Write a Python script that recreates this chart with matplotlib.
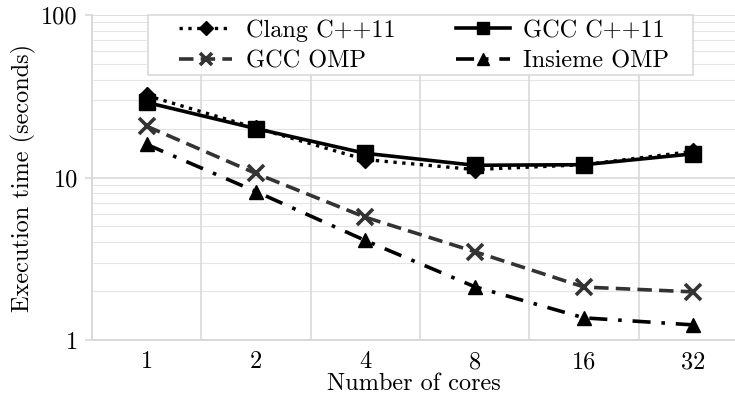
import matplotlib
matplotlib.use("Agg")
import matplotlib.pyplot as plt
from matplotlib.patches import Rectangle
from matplotlib.ticker import FixedLocator, NullFormatter

plt.rcParams["font.family"] = "serif"
plt.rcParams["font.serif"] = ["cmr10", "DejaVu Serif"]
plt.rcParams["mathtext.fontset"] = "cm"
plt.rcParams["axes.formatter.use_mathtext"] = True

cores = ["1", "2", "4", "8", "16", "32"]
clang_cxx11 = [32.0, 20.2, 12.9, 11.2, 12.0, 14.5]
gcc_cxx11 = [29.0, 20.0, 14.1, 11.9, 12.0, 14.0]
gcc_omp = [20.7, 10.6, 5.7, 3.5, 2.12, 1.98]
insieme_omp = [16.0, 8.2, 4.1, 2.13, 1.37, 1.24]

grid_col = "#d9d9d9"
fs = 17.5
x = list(range(len(cores)))

fig = plt.figure(figsize=(7.35, 3.95), dpi=100)
ax = fig.add_axes([0.125, 0.139, 0.875, 0.823])

ax.plot(x, clang_cxx11, color="black", linestyle=":", linewidth=2.4,
        marker="D", markersize=8, label="Clang C++11", zorder=3)
ax.plot(x, gcc_cxx11, color="black", linestyle="-", linewidth=2.6,
        marker="s", markersize=11, label="GCC C++11", zorder=3)
ax.plot(x, gcc_omp, color="#333333", linestyle=(0, (4, 2)), linewidth=2.6,
        marker="x", markersize=11, markeredgewidth=2.6, label="GCC OMP", zorder=3)
ax.plot(x, insieme_omp, color="black", linestyle=(0, (5, 3, 1, 3)), linewidth=2.6,
        marker="^", markersize=10, label="Insieme OMP", zorder=3)

ax.set_yscale("log")
ax.set_ylim(1, 100)
ax.set_xlim(-0.5, 5.38)
ax.set_yticks([1, 10, 100])
ax.set_yticklabels(["1", "10", "100"])
ax.yaxis.set_minor_locator(FixedLocator(
    [m * 10 ** d for d in (0, 1) for m in range(2, 10)]))
ax.yaxis.set_minor_formatter(NullFormatter())
ax.set_xticks(x)
ax.set_xticklabels(cores)
ax.xaxis.set_minor_locator(FixedLocator([i + 0.5 for i in x]))

ax.grid(True, which="major", axis="y", color=grid_col, linewidth=1.2)
ax.grid(True, which="minor", axis="y", color=grid_col, linewidth=0.8, alpha=0.7)
ax.grid(True, which="minor", axis="x", color=grid_col, linewidth=1.2)
ax.set_axisbelow(True)

ax.tick_params(axis="y", which="major", length=5, color=grid_col, width=1.2,
               labelsize=fs, pad=5)
ax.tick_params(axis="y", which="minor", length=0)
ax.tick_params(axis="x", which="both", length=0, labelsize=fs, pad=8)

for side in ("top", "right"):
    ax.spines[side].set_visible(False)
for side in ("left", "bottom"):
    ax.spines[side].set_color(grid_col)
    ax.spines[side].set_linewidth(1.4)

ax.set_ylabel("Execution time (seconds)", fontsize=fs, labelpad=4)
ax.set_xlabel("Number of cores", fontsize=fs, labelpad=0)

# legend box drawn separately (wide side padding like the original)
fig.patches.append(Rectangle((148 / 735, 1 - 75 / 395), 545 / 735, 60 / 395,
                             transform=fig.transFigure, facecolor="white",
                             edgecolor=grid_col, linewidth=1.2, zorder=4))

handles, labels = ax.get_legend_handles_labels()
order = [0, 2, 1, 3]
leg = fig.legend([handles[i] for i in order], [labels[i] for i in order],
                 ncol=2, loc="upper left", bbox_to_anchor=(179 / 735, 1 - 19 / 395),
                 fontsize=fs, frameon=False, borderpad=0.0, labelspacing=0.36,
                 handlelength=2.2, columnspacing=2.5, handletextpad=0.55,
                 borderaxespad=0.0)
for h, ms in zip(leg.legend_handles, [7, 9, 9, 8]):
    h.set_markersize(ms)
leg.set_zorder(5)

fig.savefig("out.png", dpi=100)
